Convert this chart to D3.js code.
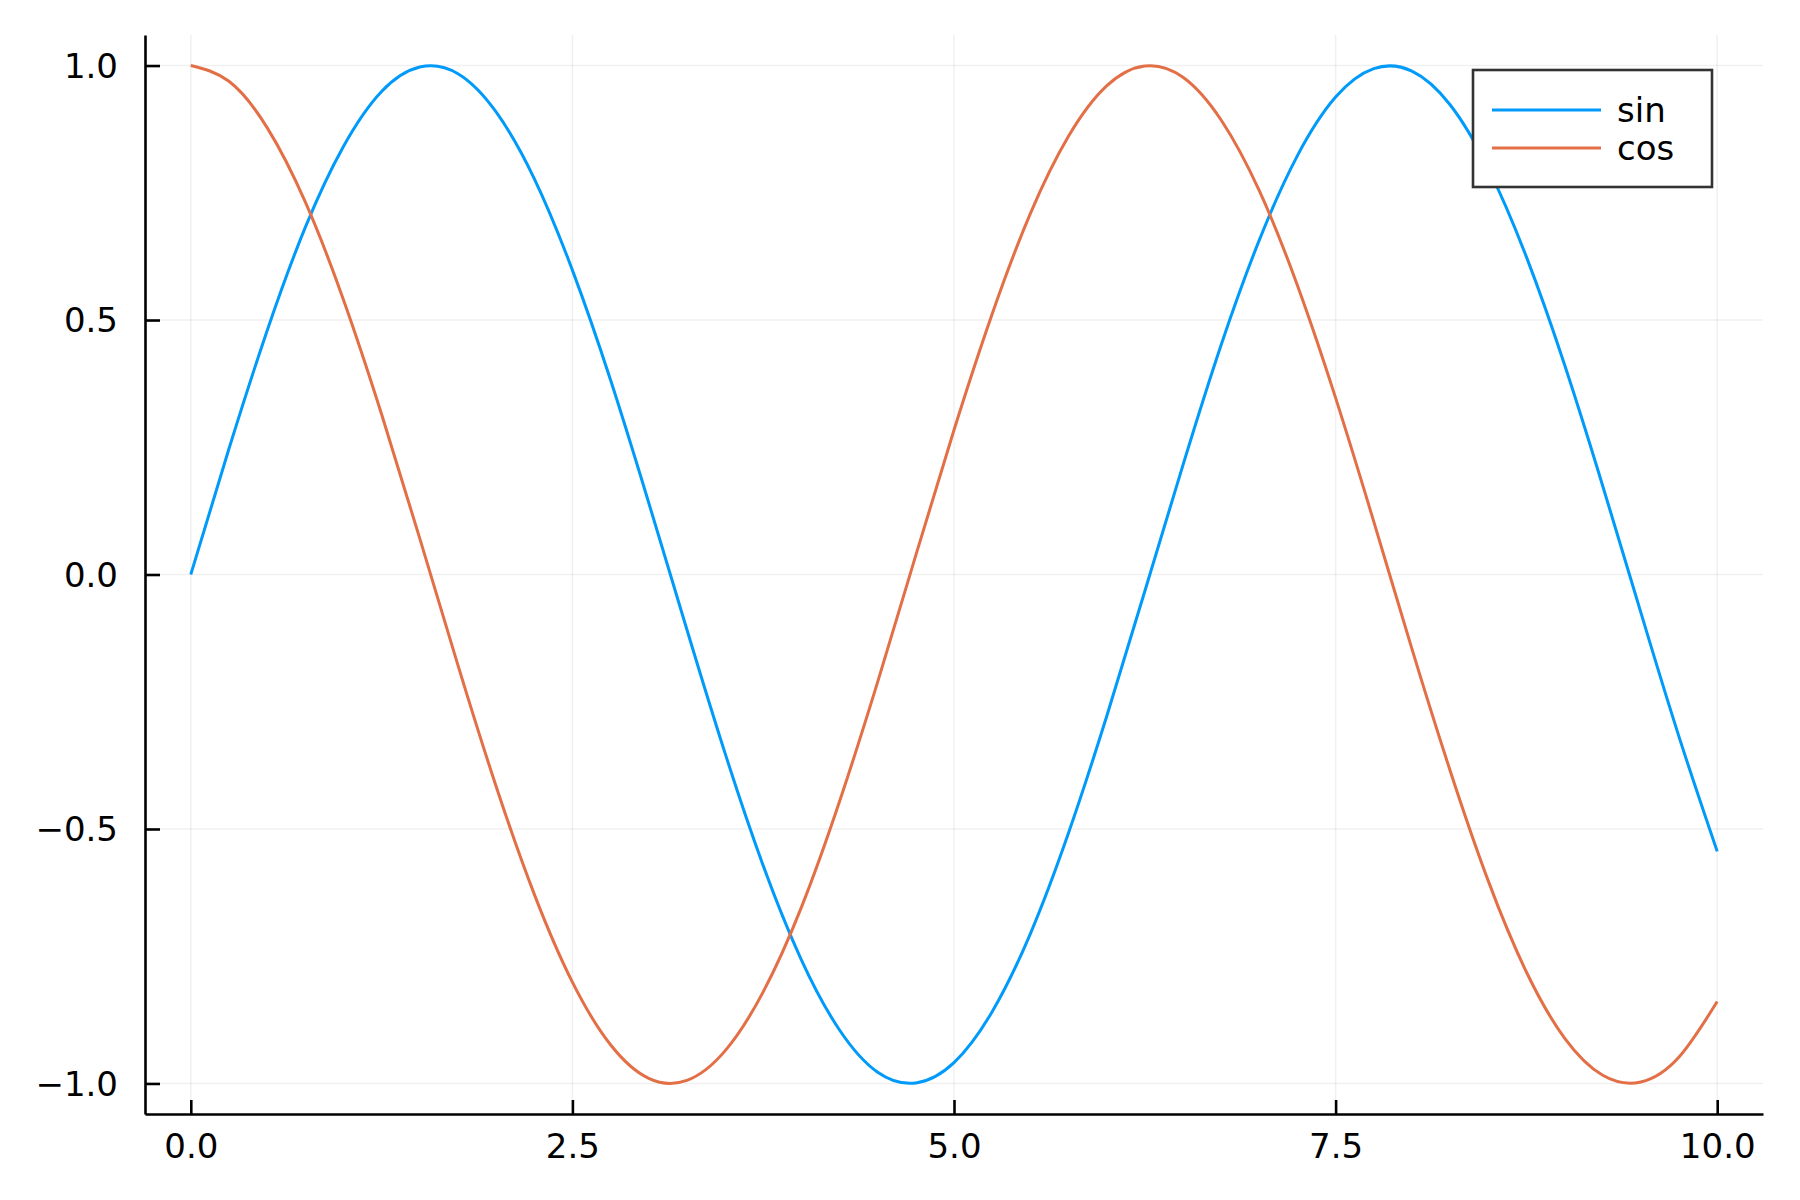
<!DOCTYPE html>
<html lang="en">
<head>
<meta charset="UTF-8">
<title>sin and cos</title>
<script src="https://d3js.org/d3.v7.min.js"></script>
<style>
    body { margin: 0; background: #fff; }
    svg { display: block; }
    .tick-label { font-family: "DejaVu Sans", sans-serif; font-size: 34px; fill: #000; }
    .legend-label { font-family: "DejaVu Sans", sans-serif; font-size: 34px; fill: #000; }
</style>
</head>
<body>
<div id="chart"></div>
<script>
// values
const xs = [0, 0.25, 0.5, 0.75, 1, 1.25, 1.5, 1.75, 2, 2.25, 2.5, 2.75, 3, 3.25, 3.5, 3.75,
    4, 4.25, 4.5, 4.75, 5, 5.25, 5.5, 5.75, 6, 6.25, 6.5, 6.75, 7, 7.25, 7.5, 7.75,
    8, 8.25, 8.5, 8.75, 9, 9.25, 9.5, 9.75, 10];
const sinValues = [0, 0.247, 0.479, 0.682, 0.841, 0.949, 0.997, 0.984, 0.909, 0.778, 0.598, 0.382,
    0.141, -0.108, -0.351, -0.572, -0.757, -0.895, -0.978, -0.999, -0.959, -0.859, -0.706, -0.508,
    -0.279, -0.033, 0.215, 0.451, 0.657, 0.823, 0.938, 0.994, 0.989, 0.923, 0.798, 0.624,
    0.412, 0.174, -0.075, -0.319, -0.544];
const cosValues = [1, 0.969, 0.878, 0.732, 0.540, 0.315, 0.071, -0.178, -0.416, -0.628, -0.801, -0.924,
    -0.990, -0.994, -0.936, -0.820, -0.654, -0.446, -0.211, 0.038, 0.284, 0.512, 0.709, 0.861,
    0.960, 0.999, 0.977, 0.893, 0.754, 0.568, 0.347, 0.104, -0.146, -0.385, -0.602, -0.781,
    -0.911, -0.984, -0.997, -0.948, -0.839];
const seriesNames = ["sin", "cos"];
const xTicks = [0, 2.5, 5, 7.5, 10];
const yTicks = [-1, -0.5, 0, 0.5, 1];

const W = 1800, H = 1200;
const plot = {left: 145, right: 1763, top: 35, bottom: 1114};
const colors = ["#009AFA", "#E36F47"];

const svg = d3.select("#chart").append("svg")
    .attr("width", W).attr("height", H);

const x = d3.scaleLinear().domain([-0.3, 10.3]).range([plot.left, plot.right]);
const y = d3.scaleLinear().domain([-1.06, 1.06]).range([plot.bottom, plot.top]);

const fmt = v => d3.format(".1f")(v).replace("-", "\u2212");

// grid
svg.append("g").selectAll("line").data(xTicks).enter().append("line")
    .attr("x1", d => x(d)).attr("x2", d => x(d))
    .attr("y1", plot.top).attr("y2", plot.bottom)
    .attr("stroke", "#000").attr("stroke-opacity", 0.06).attr("stroke-width", 1.5);
svg.append("g").selectAll("line").data(yTicks).enter().append("line")
    .attr("x1", plot.left).attr("x2", plot.right)
    .attr("y1", d => y(d)).attr("y2", d => y(d))
    .attr("stroke", "#000").attr("stroke-opacity", 0.06).attr("stroke-width", 1.5);

// series (evenly spaced points, natural spline in x)
const seriesData = [sinValues, cosValues].map(vals => vals.map((v, i) => [xs[i], v]));
const line = d3.line()
    .x(d => x(d[0]))
    .y(d => y(d[1]))
    .curve(d3.curveNatural);

svg.append("g").selectAll("path").data(seriesData).enter().append("path")
    .attr("d", line)
    .attr("fill", "none")
    .attr("stroke", (d, i) => colors[i])
    .attr("stroke-width", 3);

// axes
const xAxis = svg.append("g").attr("transform", `translate(0,${plot.bottom})`)
    .call(d3.axisBottom(x).tickValues(xTicks).tickSize(-14).tickSizeOuter(0).tickFormat(fmt));
const yAxis = svg.append("g").attr("transform", `translate(${plot.left},0)`)
    .call(d3.axisLeft(y).tickValues(yTicks).tickSize(-15).tickSizeOuter(0).tickFormat(fmt));

[xAxis, yAxis].forEach(ax => {
    ax.select(".domain").attr("stroke", "#000").attr("stroke-width", 2.6);
    ax.selectAll(".tick line").attr("stroke", "#000").attr("stroke-width", 2.6);
    ax.selectAll(".tick text").attr("class", "tick-label").attr("font-size", null).attr("font-family", null);
});
xAxis.selectAll(".tick text").attr("y", 20).attr("dy", "0.71em");
yAxis.selectAll(".tick text").attr("x", -27).attr("dy", "0.35em");

// legend
const legend = svg.append("g");
legend.append("rect")
    .attr("x", 1473).attr("y", 70).attr("width", 239).attr("height", 117)
    .attr("fill", "#fff").attr("stroke", "#333").attr("stroke-width", 2.6);
seriesNames.forEach((name, i) => {
    const ly = 110 + i * 38;
    legend.append("line")
        .attr("x1", 1492).attr("x2", 1601).attr("y1", ly).attr("y2", ly)
        .attr("stroke", colors[i]).attr("stroke-width", 3);
    legend.append("text").attr("class", "legend-label")
        .attr("x", 1617).attr("y", ly).attr("dy", "0.35em")
        .text(name);
});
</script>
</body>
</html>
